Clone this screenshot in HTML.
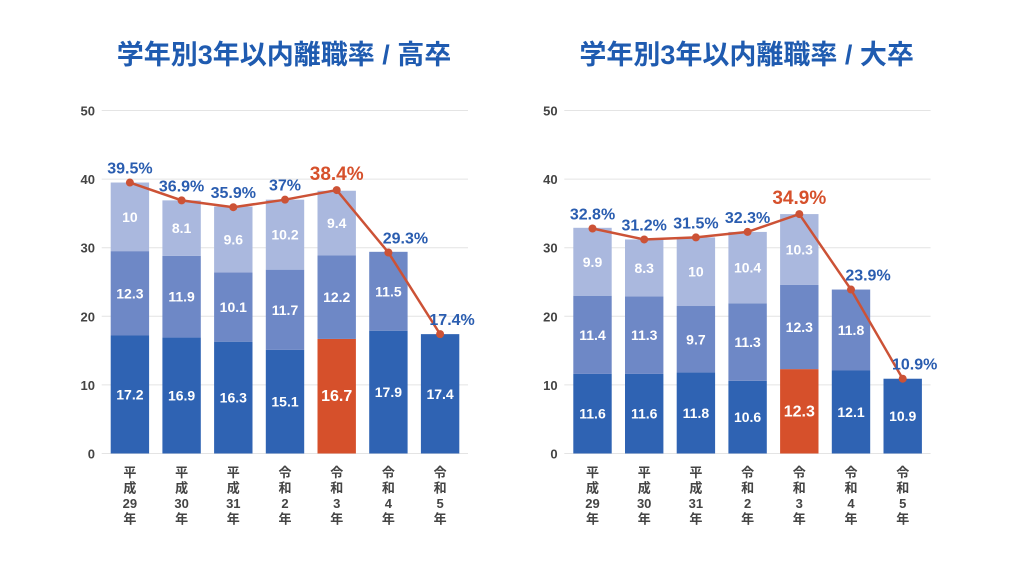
<!DOCTYPE html>
<html><head><meta charset="utf-8">
<style>
body{margin:0;background:#fff;width:1020px;height:565px;overflow:hidden;font-family:"Liberation Sans","Noto Sans CJK JP",sans-serif;}
</style></head>
<body>
<svg id="svg" width="1020" height="565" viewBox="0 0 1020 565" xmlns="http://www.w3.org/2000/svg"></svg>
<script>
const categories = [["平","成","29","年"],["平","成","30","年"],["平","成","31","年"],["令","和","2","年"],["令","和","3","年"],["令","和","4","年"],["令","和","5","年"]];
const yTicks = [0,10,20,30,40,50];
const hsYear1 = [17.2,16.9,16.3,15.1,16.7,17.9,17.4];
const hsYear2 = [12.3,11.9,10.1,11.7,12.2,11.5,null];
const hsYear3 = [10,8.1,9.6,10.2,9.4,null,null];
const hsTotal = [39.5,36.9,35.9,37,38.4,29.3,17.4];
const hsTotalLabels = ["39.5%","36.9%","35.9%","37%","38.4%","29.3%","17.4%"];
const uniYear1 = [11.6,11.6,11.8,10.6,12.3,12.1,10.9];
const uniYear2 = [11.4,11.3,9.7,11.3,12.3,11.8,null];
const uniYear3 = [9.9,8.3,10,10.4,10.3,null,null];
const uniTotal = [32.8,31.2,31.5,32.3,34.9,23.9,10.9];
const uniTotalLabels = ["32.8%","31.2%","31.5%","32.3%","34.9%","23.9%","10.9%"];
const highlight = 4;

const NS="http://www.w3.org/2000/svg";
const svg=document.getElementById('svg');
function mk(tag,attrs,parent){const e=document.createElementNS(NS,tag);for(const k in attrs)e.setAttribute(k,attrs[k]);(parent||svg).appendChild(e);return e;}

function drawChart(ox, title, s1, s2, s3, tot, totLabels, key){
  const g=mk('g',{});
  
  
  const y0=453.5, pxPer=6.86;
  const yS=v=>y0-v*pxPer;
  const bx0=110.7+ox, pitch=51.7, bw=38.4;
  const xC=i=>bx0+i*pitch+bw/2;
  const t=mk('text',{x:284+ox,y:64,'text-anchor':'middle','font-size':27,'font-weight':'bold',fill:'#1f5bb0'},g);
  t.textContent=title;
  
  
  yTicks.forEach(v=>{
    const l=mk('line',{x1:101.7+ox,x2:468+ox,y1:yS(v),y2:yS(v),stroke:'#e4e4e4','stroke-width':1},g);
    
    
    const tt=mk('text',{x:95+ox,y:yS(v)+5,'text-anchor':'end','font-size':13,'font-weight':'bold',fill:'#444'},g);
    tt.textContent=v;
    
    
  });
  const cols=['#2f63b3','#6e88c6','#aab8de'];
  categories.forEach((c,i)=>{
    let base=0;
    [s1,s2,s3].forEach((arr,si)=>{
      const v=arr[i]; if(v==null) return;
      const fill=(si===0&&i===highlight)?'#d6502b':cols[si];
      const r=mk('rect',{x:bx0+i*pitch,y:yS(base+v),width:bw,height:v*pxPer,fill:fill},g);
      
      
      const lt=mk('text',{x:xC(i),y:yS(base+v/2)+5,'text-anchor':'middle','font-size':i===highlight&&si===0?16:14,'font-weight':'bold',fill:'#fff'},g);
      lt.textContent=v;
      
      
      base+=v;
    });
    c.forEach((ch,k)=>{
      const ct=mk('text',{x:xC(i),y:477+k*15.5,'text-anchor':'middle','font-size':13,'font-weight':'bold',fill:'#444'},g);
      ct.textContent=ch;
      
      
    });
  });
  const pts=tot.map((v,i)=>xC(i)+','+yS(v)).join(' ');
  const pl=mk('polyline',{points:pts,fill:'none',stroke:'#cc5236','stroke-width':2.5},g);
  
  
  tot.forEach((v,i)=>{
    const c=mk('circle',{cx:xC(i),cy:yS(v),r:4,fill:'#cc5236'},g);
    
    
    const hi=i===highlight;
    const dx=i===5?17:(i===6?12:0);
    const lt=mk('text',{x:xC(i)+dx,y:yS(v)-(hi?10:9),'text-anchor':'middle','font-size':hi?19:16,'font-weight':'bold',fill:hi?'#d6502b':'#2a5db0'},g);
    lt.textContent=totLabels[i];
    
    
  });
}
drawChart(0,'学年別3年以内離職率 / 高卒',hsYear1,hsYear2,hsYear3,hsTotal,hsTotalLabels,'high-school');
drawChart(462.6,'学年別3年以内離職率 / 大卒',uniYear1,uniYear2,uniYear3,uniTotal,uniTotalLabels,'university');
</script>
</body></html>
